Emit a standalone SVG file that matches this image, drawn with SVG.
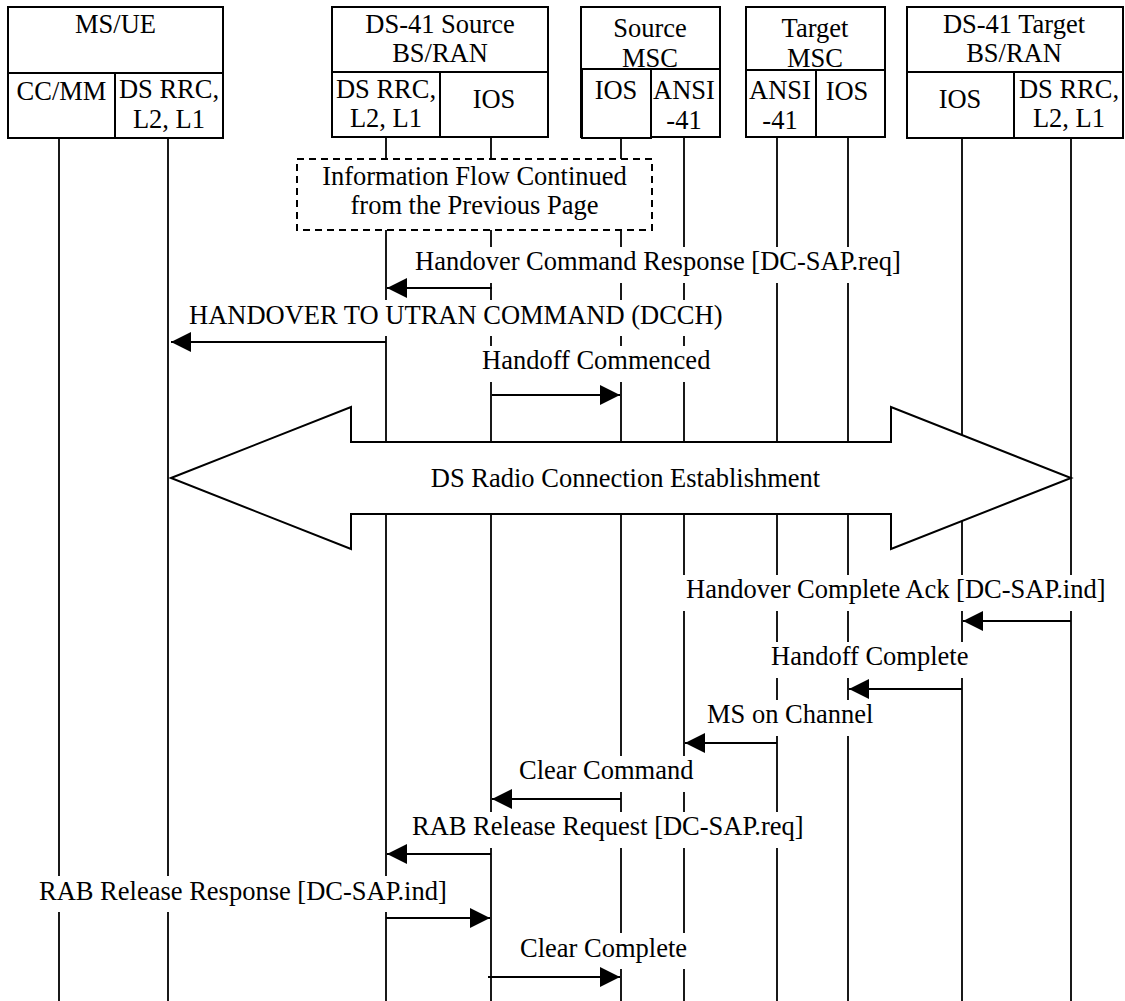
<svg xmlns="http://www.w3.org/2000/svg" width="1125" height="1001" viewBox="0 0 1125 1001">
<defs>
<style>
text{font-family:"Liberation Serif","Times New Roman",serif;font-size:26.5px;fill:#000}
.c{text-anchor:middle}
.box{fill:#fff;stroke:#000;stroke-width:2}
.ln{stroke:#000;stroke-width:2;fill:none}
.life{stroke:#000;stroke-width:1.8}
.msg{stroke:#000;stroke-width:2;fill:none;marker-end:url(#ah)}
.bg{fill:#fff;stroke:none}
</style>
<marker id="ah" markerUnits="userSpaceOnUse" markerWidth="20" markerHeight="20" refX="20" refY="10" orient="auto">
<path d="M0,0 L20,10 L0,20 Z" fill="#000"/>
</marker>
</defs>
<rect width="1125" height="1001" fill="#fff"/>

<g id="lifelines">
<line class="life" x1="59" y1="138" x2="59" y2="1001"/>
<line class="life" x1="168" y1="138" x2="168" y2="1001"/>
<line class="life" x1="386" y1="137" x2="386" y2="1001"/>
<line class="life" x1="491" y1="137" x2="491" y2="1001"/>
<line class="life" x1="621" y1="137" x2="621" y2="1001"/>
<line class="life" x1="684" y1="137" x2="684" y2="1001"/>
<line class="life" x1="777" y1="137" x2="777" y2="1001"/>
<line class="life" x1="848" y1="137" x2="848" y2="1001"/>
<line class="life" x1="962" y1="138" x2="962" y2="1001"/>
<line class="life" x1="1071" y1="138" x2="1071" y2="1001"/>
</g>

<g id="ms_ue">
<rect class="box" x="8" y="7" width="215" height="131"/>
<line class="ln" x1="8" y1="73" x2="223" y2="73"/>
<line class="ln" x1="115" y1="73" x2="115" y2="138"/>
<text class="c" x="115.5" y="33">MS/UE</text>
<text class="c" x="61.5" y="100">CC/MM</text>
<text class="c" x="169" y="98">DS RRC,</text>
<text class="c" x="169" y="128">L2, L1</text>
</g>

<g id="source_bs">
<rect class="box" x="332" y="7" width="216" height="130"/>
<line class="ln" x1="332" y1="72" x2="548" y2="72"/>
<line class="ln" x1="440" y1="72" x2="440" y2="137"/>
<text class="c" x="440" y="33">DS-41 Source</text>
<text class="c" x="440" y="62">BS/RAN</text>
<text class="c" x="386" y="98">DS RRC,</text>
<text class="c" x="386" y="127">L2, L1</text>
<text class="c" x="494" y="108">IOS</text>
</g>

<g id="source_msc">
<rect class="box" x="581" y="7" width="139" height="130"/>
<rect class="box" x="582" y="69" width="69" height="69"/>
<line class="ln" x1="581" y1="69" x2="720" y2="69"/>
<text class="c" x="650" y="37">Source</text>
<text class="c" x="650" y="67">MSC</text>
<rect class="box" x="582" y="69" width="69" height="69" fill-opacity="0"/>
<text class="c" x="616" y="99">IOS</text>
<text class="c" x="684" y="99">ANSI</text>
<text class="c" x="684" y="129">-41</text>
</g>

<g id="target_msc">
<rect class="box" x="746" y="7" width="139" height="130"/>
<text class="c" x="815" y="37">Target</text>
<text class="c" x="815" y="67">MSC</text>
<line class="ln" x1="746" y1="70" x2="885" y2="70"/>
<line class="ln" x1="816" y1="70" x2="816" y2="137"/>
<text class="c" x="780" y="99">ANSI</text>
<text class="c" x="780" y="129">-41</text>
<text class="c" x="847" y="100">IOS</text>
</g>

<g id="target_bs">
<rect class="box" x="907" y="7" width="216" height="131"/>
<line class="ln" x1="907" y1="72" x2="1123" y2="72"/>
<line class="ln" x1="1014" y1="72" x2="1014" y2="138"/>
<text class="c" x="1014" y="33">DS-41 Target</text>
<text class="c" x="1014" y="62">BS/RAN</text>
<text class="c" x="960" y="108">IOS</text>
<text class="c" x="1069" y="98">DS RRC,</text>
<text class="c" x="1069" y="127">L2, L1</text>
</g>

<g id="continued_note">
<rect x="297" y="159" width="355" height="71" fill="#fff" stroke="#000" stroke-width="2" stroke-dasharray="7,5"/>
<text class="c" x="474.5" y="185">Information Flow Continued</text>
<text class="c" x="474.5" y="214">from the Previous Page</text>
</g>

<g id="radio_connection">
<polygon points="171,478 351,407 351,442 891,442 891,407 1071,478 891,549 891,514 351,514 351,549" fill="#fff" stroke="#000" stroke-width="2" stroke-linejoin="miter"/>
<text class="c" x="625.5" y="487">DS Radio Connection Establishment</text>
</g>

<g id="connectors">
<rect class="bg" x="409" y="247" width="502" height="36"/>
<text x="415" y="270">Handover Command Response [DC-SAP.req]</text>
<line class="msg" x1="492" y1="288" x2="387" y2="288"/>

<rect class="bg" x="183" y="300" width="548" height="36"/>
<text x="189" y="324">HANDOVER TO UTRAN COMMAND (DCCH)</text>
<line class="msg" x1="386" y1="342" x2="171" y2="342"/>

<rect class="bg" x="476" y="346" width="242" height="36"/>
<text x="482" y="369">Handoff Commenced</text>
<line class="msg" x1="492" y1="395" x2="620" y2="395"/>

<rect class="bg" x="680" y="575" width="437" height="36"/>
<text x="686" y="598">Handover Complete Ack [DC-SAP.ind]</text>
<line class="msg" x1="1071" y1="621" x2="963" y2="621"/>

<rect class="bg" x="765" y="642" width="209" height="36"/>
<text x="771" y="665">Handoff Complete</text>
<line class="msg" x1="962" y1="689" x2="849" y2="689"/>

<rect class="bg" x="701" y="700" width="178" height="36"/>
<text x="707" y="723">MS on Channel</text>
<line class="msg" x1="777" y1="743" x2="685" y2="743"/>

<rect class="bg" x="513" y="756" width="186" height="36"/>
<text x="519" y="779">Clear Command</text>
<line class="msg" x1="621" y1="799" x2="492" y2="799"/>

<rect class="bg" x="406" y="812" width="395" height="36"/>
<text x="412" y="835">RAB Release Request [DC-SAP.req]</text>
<line class="msg" x1="491" y1="854" x2="387" y2="854"/>

<rect class="bg" x="33" y="876" width="423" height="36"/>
<text x="39" y="900">RAB Release Response [DC-SAP.ind]</text>
<line class="msg" x1="386" y1="918" x2="490" y2="918"/>

<rect class="bg" x="514" y="933" width="178" height="36"/>
<text x="520" y="957">Clear Complete</text>
<line class="msg" x1="488" y1="977" x2="620" y2="977"/>
</g>
</svg>
